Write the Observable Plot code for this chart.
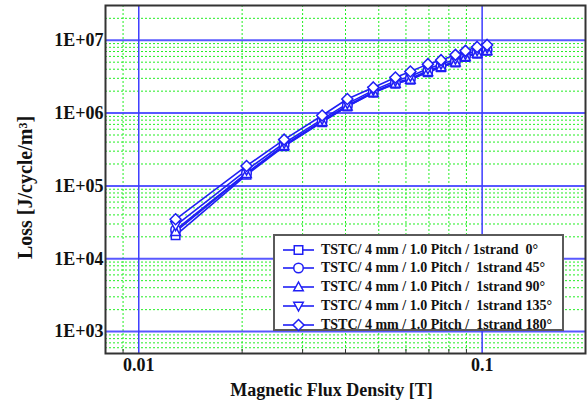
<!DOCTYPE html>
<html>
<head>
<meta charset="utf-8">
<script src="https://cdn.jsdelivr.net/npm/d3@7"></script>
<script src="https://cdn.jsdelivr.net/npm/@observablehq/plot@0.6"></script>
<style>
  html, body { margin: 0; padding: 0; background: #fff; }
  #chart { position: relative; width: 588px; height: 407px; }
  #legend {
    position: absolute; left: 273px; top: 234px; width: 287px; height: 93px;
    border: 2px solid #5a5a5a; background: #fff;
    font: bold 14px "Liberation Serif", "Times New Roman", serif; color: #111;
  }
  .row { position: absolute; left: 0; height: 19px; display: flex; align-items: center; white-space: pre; }
  .row svg { margin-left: 8px; margin-right: 7px; }
</style>
</head>
<body>
<div id="chart"></div>
<script>
// Magnetic flux density [T]
const fluxDensity = [0.0128, 0.0206, 0.0265, 0.0342, 0.0405, 0.0482, 0.0559, 0.0618, 0.0695, 0.0759, 0.0836, 0.0894, 0.0967, 0.1034];

// Loss [J/cycle/m3] per strand angle
const loss0   = [21000, 142000, 350000, 750000, 1230000, 1900000, 2520000, 2870000, 3650000, 4250000, 4950000, 5900000, 6550000, 7150000];
const loss45  = [25000, 150000, 362000, 780000, 1270000, 1950000, 2600000, 2980000, 3800000, 4400000, 5150000, 6050000, 6750000, 7350000];
const loss90  = [23500, 147000, 355000, 762000, 1240000, 1920000, 2550000, 2900000, 3700000, 4300000, 5000000, 5950000, 6600000, 7200000];
const loss135 = [28500, 165000, 385000, 820000, 1350000, 2050000, 2750000, 3200000, 4050000, 4700000, 5500000, 6400000, 7200000, 7800000];
const loss180 = [34800, 188000, 432000, 925000, 1560000, 2250000, 3080000, 3730000, 4700000, 5330000, 6300000, 7150000, 8100000, 8630000];

const seriesNames = [
  "TSTC/ 4 mm / 1.0 Pitch / 1strand  0°",
  "TSTC/ 4 mm / 1.0 Pitch /  1strand 45°",
  "TSTC/ 4 mm / 1.0 Pitch /  1strand 90°",
  "TSTC/ 4 mm / 1.0 Pitch /  1strand 135°",
  "TSTC/ 4 mm / 1.0 Pitch /  1strand 180°"
];
const seriesValues = [loss0, loss45, loss90, loss135, loss180];

const xTicks = [0.01, 0.1];
const yTicks = [1e3, 1e4, 1e5, 1e6, 1e7];
const xDomain = [0.008, 0.2];
const yDomain = [500, 3e7];

const blue = "#1f1ff5";
const gridBlue = "#3c3cff";
const gridGreen = "#22ee22";

// minor grid positions: 2..9 times each decade, within the domain
function minorTicks([lo, hi]) {
  const out = [];
  for (let e = Math.floor(Math.log10(lo)); e <= Math.ceil(Math.log10(hi)); e++) {
    for (let m = 2; m <= 9; m++) {
      const v = m * Math.pow(10, e);
      if (v > lo && v < hi) out.push(v);
    }
  }
  return out;
}
const xMinor = minorTicks(xDomain);
const yMinor = minorTicks(yDomain);

// open marker shapes, sized from the dot radius
const shapes = [
  (c, r) => { const h = 0.85 * r; c.moveTo(-h, -h); c.lineTo(h, -h); c.lineTo(h, h); c.lineTo(-h, h); c.closePath(); },
  (c, r) => { const a = 0.95 * r; c.moveTo(a, 0); c.arc(0, 0, a, 0, 2 * Math.PI); c.closePath(); },
  (c, r) => { c.moveTo(0, -1.0 * r); c.lineTo(0.95 * r, 0.75 * r); c.lineTo(-0.95 * r, 0.75 * r); c.closePath(); },
  (c, r) => { c.moveTo(0, 1.0 * r); c.lineTo(0.95 * r, -0.75 * r); c.lineTo(-0.95 * r, -0.75 * r); c.closePath(); },
  (c, r) => { const a = 1.1 * r; c.moveTo(0, -a); c.lineTo(a, 0); c.lineTo(0, a); c.lineTo(-a, 0); c.closePath(); }
];
const symbols = shapes.map(f => ({ draw(context, size) { f(context, Math.sqrt(size / Math.PI)); } }));

const rows = seriesNames.flatMap((name, i) =>
  fluxDensity.map((b, j) => ({ name, b, loss: seriesValues[i][j] })));

const font = { fontFamily: "'Liberation Serif','Times New Roman',serif", fontWeight: "bold", color: "#111", background: "#fff" };

const plot = Plot.plot({
  width: 588,
  height: 407,
  marginLeft: 105,
  marginRight: 3,
  marginTop: 5,
  marginBottom: 54,
  style: { ...font, fontSize: "18px" },
  x: { type: "log", domain: xDomain },
  y: { type: "log", domain: yDomain },
  marks: [
    Plot.ruleX(xMinor, { stroke: gridGreen, strokeWidth: 1, strokeDasharray: "2,2" }),
    Plot.ruleY(yMinor, { stroke: gridGreen, strokeWidth: 1, strokeDasharray: "2,2" }),
    Plot.ruleX(xTicks, { stroke: gridBlue, strokeWidth: 1.5 }),
    Plot.ruleY(yTicks, { stroke: gridBlue, strokeWidth: 2, strokeOpacity: 0.85 }),
    Plot.line(rows, { x: "b", y: "loss", z: "name", stroke: blue, strokeWidth: 1.6 }),
    ...seriesNames.map((name, i) =>
      Plot.dot(rows.filter(d => d.name === name), {
        x: "b", y: "loss", r: 5, symbol: symbols[i], fill: "white", stroke: blue, strokeWidth: 1.5
      })),
    Plot.axisX(xMinor, { tickSize: 4, dy: -4, text: null, stroke: "#333", label: null }),
    Plot.axisX(xTicks, { tickSize: 0, tickPadding: 5, tickFormat: d => String(d), fontSize: 18, label: null }),
    Plot.axisY(yTicks, {
      tickSize: 0, tickPadding: 2, fontSize: 18, label: null,
      tickFormat: d => "1E+" + String(Math.round(Math.log10(d))).padStart(2, "0")
    }),
    Plot.frame({ stroke: "#333", strokeWidth: 2 }),
    Plot.text(["Magnetic Flux Density [T]"], {
      frameAnchor: "bottom", textAnchor: "middle", lineAnchor: "middle", dx: -14, dy: 37, fontSize: 18
    }),
    Plot.text(["Loss [J/cycle/m³]"], {
      frameAnchor: "left", textAnchor: "middle", lineAnchor: "middle", rotate: -90, dx: -80, dy: 8, fontSize: 20
    })
  ]
});
const chart = document.getElementById("chart");
chart.appendChild(plot);

// legend box
const legend = document.createElement("div");
legend.id = "legend";
seriesNames.forEach((name, i) => {
  const row = document.createElement("div");
  row.className = "row";
  row.style.top = (4 + i * 18.9) + "px";
  const p = d3.path();
  p.moveTo(0, 0);
  shapes[i](p, 5);
  const svg = d3.create("svg").attr("width", 31).attr("height", 14);
  svg.append("line").attr("x1", 0).attr("x2", 31).attr("y1", 7).attr("y2", 7)
    .attr("stroke", blue).attr("stroke-width", 1.6);
  svg.append("path").attr("d", p.toString()).attr("transform", "translate(15.5,7)")
    .attr("fill", "white").attr("stroke", blue).attr("stroke-width", 1.5);
  row.appendChild(svg.node());
  const label = document.createElement("span");
  label.textContent = name;
  row.appendChild(label);
  legend.appendChild(row);
});
chart.appendChild(legend);
</script>
</body>
</html>
